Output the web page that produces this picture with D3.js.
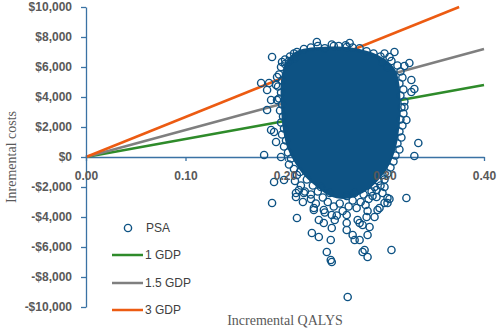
<!DOCTYPE html>
<html>
<head>
<meta charset="utf-8">
<script src="https://cdn.jsdelivr.net/npm/d3@7"></script>
<style>
  body { margin: 0; background: #fff; }
  svg { display: block; }
</style>
</head>
<body>
<svg id="chart"></svg>
<script>
// axis ticks
const xTicks = [0, 0.1, 0.2, 0.3, 0.4];
const yTicks = [-10000, -8000, -6000, -4000, -2000, 0, 2000, 4000, 6000, 8000, 10000];

// willingness-to-pay lines (qaly, cost)
const gdp1 = [[0, 0], [0.40, 4800]];
const gdp15 = [[0, 0], [0.40, 7200]];
const gdp3 = [[0, 0], [0.375, 10000]];

// dense centre of the PSA cloud, where the circles overlap fully
const psaCore = [
  [0.210, 7000], [0.222, 7250], [0.240, 7350], [0.258, 7350], [0.275, 7200],
  [0.290, 6900], [0.303, 6400], [0.311, 5800], [0.315, 4800], [0.316, 3100],
  [0.314, 1500], [0.311, 500], [0.305, -500], [0.297, -1300], [0.287, -2000],
  [0.275, -2500], [0.260, -2800], [0.245, -2600], [0.232, -2000], [0.220, -1300],
  [0.211, -500], [0.203, 500], [0.198, 1800], [0.196, 3500], [0.196, 5100],
  [0.200, 6200]
];

// PSA iterations that stand apart (qaly, cost)
const psaPoints = [
  // top edge
  [0.212, 7000], [0.219, 7200], [0.226, 7300], [0.233, 7400], [0.240, 7250],
  [0.247, 7500], [0.254, 7400], [0.261, 7450], [0.268, 7300], [0.275, 7250],
  [0.282, 7050], [0.289, 6900], [0.296, 6700], [0.205, 6700], [0.209, 6900], [0.200, 6200],
  [0.232, 7667], [0.249, 7400], [0.265, 7600], [0.262, 7333],
  [0.204, 6400], [0.210, 6600], [0.298, 6300], [0.303, 6000],
  // left side
  [0.187, 6667], [0.197, 6333], [0.176, 4933], [0.184, 4933], [0.182, 4467],
  [0.186, 3800], [0.192, 3800], [0.182, 3133], [0.192, 5333], [0.191, 4800],
  [0.186, 1800], [0.189, 1667], [0.191, 1000], [0.179, 133], [0.196, 0],
  [0.189, -1667], [0.199, -1533], [0.187, -3067],
  [0.200, 6500], [0.196, 6000], [0.194, 5500], [0.197, 5100], [0.193, 4700],
  [0.196, 4300], [0.194, 3900], [0.197, 3500], [0.195, 3100], [0.198, 2700],
  [0.196, 2300], [0.199, 1900], [0.197, 1500], [0.201, 1100], [0.199, 700],
  [0.203, 300], [0.206, -100], [0.204, -500], [0.209, -800], [0.212, -1200],
  [0.210, -1600], [0.216, -1900], [0.214, -2200],
  // right side
  [0.310, 7000], [0.305, 6667], [0.320, 6067], [0.325, 6267], [0.327, 5133],
  [0.327, 4333], [0.330, 4533], [0.320, 3333], [0.322, 2467], [0.334, 933],
  [0.330, 67], [0.322, -2733], [0.303, -2733], [0.300, -3067],
  [0.300, 6900], [0.307, 6400], [0.313, 6100], [0.316, 5700], [0.318, 5300],
  [0.315, 4900], [0.319, 4500], [0.316, 4100], [0.320, 3700], [0.317, 3300],
  [0.319, 2900], [0.316, 2500], [0.318, 2100], [0.315, 1700], [0.317, 1300],
  [0.313, 900], [0.315, 500], [0.311, 100], [0.309, -300], [0.306, -700],
  [0.303, -1100], [0.300, -1500], [0.296, -1900], [0.292, -2200], [0.300, -2000],
  [0.288, -2600],
  // lower part
  [0.215, -1000], [0.222, -1500], [0.228, -1900], [0.220, -2300], [0.226, -2500],
  [0.233, -2300], [0.238, -2700], [0.231, -3100], [0.243, -3000], [0.249, -3300],
  [0.255, -3100], [0.258, -3600], [0.264, -3300], [0.268, -2900], [0.272, -3400],
  [0.276, -3000], [0.281, -3200], [0.284, -2800], [0.279, -2500], [0.287, -2300],
  [0.290, -2000], [0.294, -1600], [0.298, -1200], [0.240, -3700], [0.252, -3900],
  [0.283, -3600], [0.236, -2000], [0.245, -2400], [0.270, -2400], [0.262, -2600],
  [0.211, -2667], [0.211, -2400], [0.218, -3000], [0.226, -2800], [0.219, -2400],
  [0.229, -3400], [0.229, -3533], [0.239, -3533], [0.247, -3867], [0.262, -3867],
  [0.262, -4400], [0.275, -4400], [0.282, -4000], [0.290, -4000], [0.293, -3533],
  [0.295, -3400], [0.303, -3067], [0.305, -2800], [0.298, -2400], [0.292, -2667],
  [0.234, -4200], [0.239, -4400], [0.250, -4200], [0.273, -4200], [0.278, -4533],
  [0.285, -4667], [0.212, -4067],
  // outliers below
  [0.227, -5067], [0.234, -5333], [0.247, -4733], [0.246, -5533], [0.262, -4867],
  [0.268, -5200], [0.270, -5533], [0.275, -5533], [0.283, -5200],
  [0.242, -6333], [0.246, -6867], [0.247, -7000], [0.278, -6333], [0.283, -6667],
  [0.280, -6200], [0.307, -6200], [0.263, -9333]
];

const legendItems = [
  { label: "PSA", type: "point" },
  { label: "1 GDP", type: "line", color: "#2e8b2a" },
  { label: "1.5 GDP", type: "line", color: "#7f7f7f" },
  { label: "3 GDP", type: "line", color: "#ec5b12" }
];

const width = 498, height = 330;
const margin = { top: 7, right: 14, bottom: 23, left: 86 };
const innerW = width - margin.left - margin.right;
const innerH = height - margin.top - margin.bottom;
const blue = "#0d5283";
const axisBlue = "#3a72a4";
const labelGray = "#595959";

const svg = d3.select("#chart").attr("width", width).attr("height", height);
const chart = svg.append("g").attr("transform", `translate(${margin.left}, ${margin.top})`);

const x = d3.scaleLinear().domain([0, 0.4]).range([0, innerW]);
const y = d3.scaleLinear().domain([-10000, 10000]).range([innerH, 0]);

// x axis line + ticks (under the points)
chart.append("g")
    .attr("transform", `translate(0, ${y(0)})`)
    .call(d3.axisBottom(x).tickValues(xTicks).tickSize(4).tickSizeOuter(0).tickFormat(""))
    .call(g => g.selectAll("path, line").attr("stroke", axisBlue).attr("stroke-width", 1.3));

// WTP lines
const line = d3.line().x(d => x(d[0])).y(d => y(d[1]));
[[gdp1, legendItems[1].color], [gdp15, legendItems[2].color], [gdp3, legendItems[3].color]].forEach(([d, c]) => {
  chart.append("path")
      .attr("d", line(d))
      .attr("fill", "none")
      .attr("stroke", c)
      .attr("stroke-width", 2.5);
});

// y axis
chart.append("g")
    .call(d3.axisLeft(y).tickValues(yTicks).tickSize(5).tickSizeOuter(0).tickPadding(9)
      .tickFormat(d => (d < 0 ? "-$" : "$") + d3.format(",")(Math.abs(d))))
    .call(g => g.selectAll("path, line").attr("stroke", axisBlue).attr("stroke-width", 1.3))
    .call(g => g.selectAll("text")
      .attr("fill", labelGray)
      .attr("font-family", "'Liberation Sans', Arial, sans-serif")
      .attr("font-weight", "bold")
      .attr("font-size", "12px"));

// PSA cloud
chart.append("path")
    .attr("d", d3.line().x(d => x(d[0])).y(d => y(d[1])).curve(d3.curveCatmullRomClosed)(psaCore))
    .attr("fill", blue);

chart.selectAll("circle.psa").data(psaPoints).enter()
    .append("circle")
    .attr("class", "psa")
    .attr("cx", d => x(d[0]))
    .attr("cy", d => y(d[1]))
    .attr("r", 3.6)
    .attr("fill", "none")
    .attr("stroke", blue)
    .attr("stroke-width", 1.4);

// x tick labels on top of the points
chart.append("g")
    .attr("transform", `translate(0, ${y(0)})`)
    .call(d3.axisBottom(x).tickValues(xTicks).tickSize(0).tickPadding(14).tickFormat(d3.format(".2f")))
    .call(g => g.select(".domain").remove())
    .call(g => g.selectAll("text")
      .attr("fill", labelGray)
      .attr("font-family", "'Liberation Sans', Arial, sans-serif")
      .attr("font-weight", "bold")
      .attr("font-size", "12px"));

// axis titles
svg.append("text")
    .attr("transform", `translate(16, ${margin.top + y(0)}) rotate(-90)`)
    .attr("text-anchor", "middle")
    .attr("font-family", "'Liberation Serif', 'Times New Roman', serif")
    .attr("font-size", "14px")
    .attr("fill", labelGray)
    .text("Inremental costs");

svg.append("text")
    .attr("x", 285)
    .attr("y", 325)
    .attr("text-anchor", "middle")
    .attr("font-family", "'Liberation Serif', 'Times New Roman', serif")
    .attr("font-size", "14px")
    .attr("fill", labelGray)
    .text("Incremental QALYS");

// legend
const legend = svg.append("g").attr("transform", "translate(112, 228)");
const rowGap = [0, 27, 55, 82];
legendItems.forEach((item, i) => {
  const row = legend.append("g").attr("transform", `translate(0, ${rowGap[i]})`);
  if (item.type === "point") {
    row.append("circle").attr("cx", 16).attr("cy", 0).attr("r", 3.6)
        .attr("fill", "none").attr("stroke", blue).attr("stroke-width", 1.4);
  } else {
    row.append("line").attr("x1", 0).attr("x2", 31).attr("y1", 0).attr("y2", 0)
        .attr("stroke", item.color).attr("stroke-width", 2.5);
  }
  row.append("text")
      .attr("x", item.type === "point" ? 34 : 33)
      .attr("y", 0)
      .attr("dy", "0.35em")
      .attr("font-family", "'Liberation Sans', Arial, sans-serif")
      .attr("font-size", "12px")
      .attr("fill", "#404040")
      .text(item.label);
});
</script>
</body>
</html>
